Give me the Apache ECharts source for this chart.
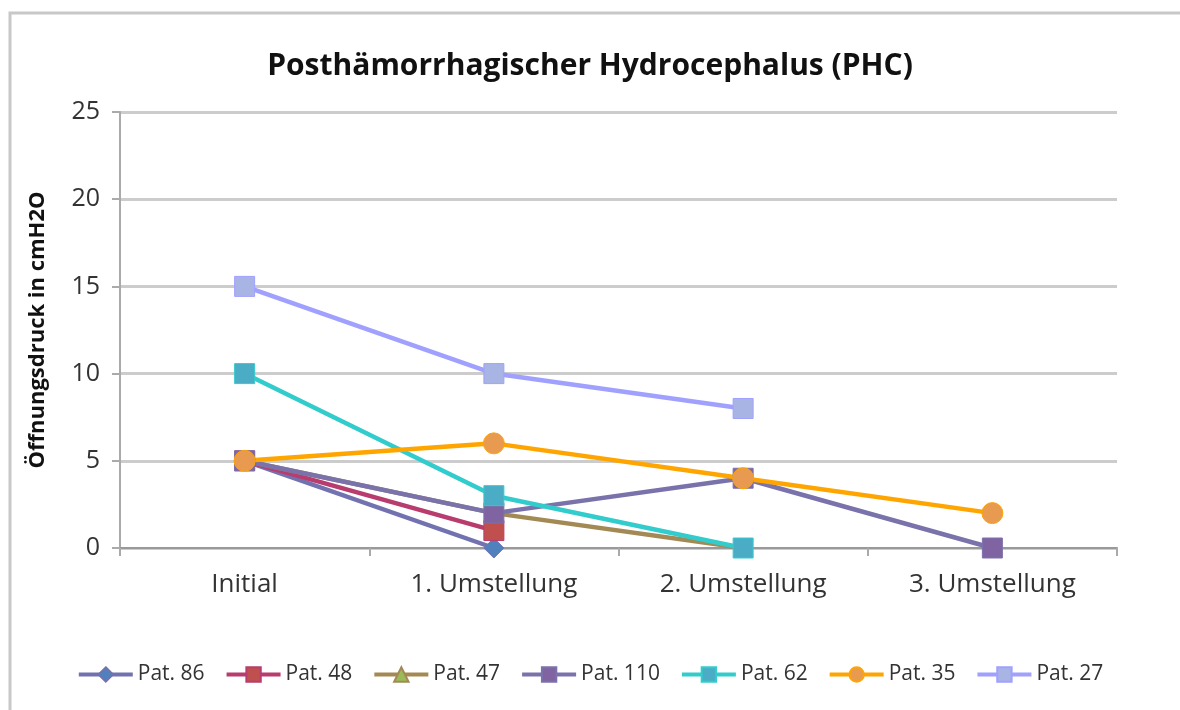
<!DOCTYPE html>
<html>
<head>
<meta charset="utf-8">
<script src="https://cdn.jsdelivr.net/npm/echarts@6/dist/echarts.min.js"></script>
<style>
  html, body { margin: 0; padding: 0; background: #fff; }
  #chart { width: 1180px; height: 710px; }
</style>
</head>
<body>
<div id="chart"></div>
<script>
const categories = ['Initial', '1. Umstellung', '2. Umstellung', '3. Umstellung']
const yTicks = [0, 5, 10, 15, 20, 25]

const pat86 = [5, 0, null, null]
const pat48 = [5, 1, null, null]
const pat47 = [5, 2, 0, null]
const pat110 = [5, 2, 4, 0]
const pat62 = [10, 3, 0, null]
const pat35 = [5, 6, 4, 2]
const pat27 = [15, 10, 8, null]

const FONT = '"Open Sans", "DejaVu Sans", sans-serif'

const mkSeries = (name, data, lineColor, markerColor, symbol, size) => ({
  name,
  type: 'line',
  data,
  symbol,
  symbolSize: size,
  connectNulls: false,
  lineStyle: { color: lineColor, width: 4.5 },
  itemStyle: { color: markerColor, borderColor: lineColor, borderWidth: 1 },
  emphasis: { disabled: true },
})

const chart = echarts.init(document.getElementById('chart'))
chart.setOption({
  animation: false,
  backgroundColor: '#fff',
  graphic: [{
    type: 'rect',
    shape: { x: 10, y: 13, width: 1200, height: 720 },
    style: { fill: 'none', stroke: '#c8c8c8', lineWidth: 3 },
    silent: true,
  }],
  title: {
    text: 'Posthämorrhagischer Hydrocephalus (PHC)',
    left: 'center',
    top: 46,
    textStyle: { fontFamily: FONT, fontSize: 30, fontWeight: 'bold', color: '#111' },
  },
  grid: { left: 120, right: 63, top: 112, bottom: 162 },
  legend: {
    bottom: 20,
    left: 'center',
    itemWidth: 54,
    itemHeight: 18,
    itemGap: 20,
    lineStyle: { width: 4 },
    textStyle: { fontFamily: FONT, fontSize: 21, color: '#333' },
  },
  xAxis: {
    type: 'category',
    data: categories,
    boundaryGap: true,
    axisLine: { lineStyle: { color: '#999', width: 2 } },
    axisTick: { show: true, length: 8, lineStyle: { color: '#aaa', width: 2 } },
    axisLabel: { fontFamily: FONT, fontSize: 26, color: '#333', margin: 24 },
  },
  yAxis: {
    type: 'value',
    min: 0,
    max: 25,
    interval: 5,
    name: 'Öffnungsdruck in cmH2O',
    nameLocation: 'middle',
    nameGap: 71,
    nameTextStyle: { fontFamily: FONT, fontSize: 22, fontWeight: 'bold', color: '#111' },
    axisLine: { show: true, lineStyle: { color: '#aaa', width: 2 } },
    axisTick: { show: true, length: 8, lineStyle: { color: '#aaa', width: 2 } },
    axisLabel: {
      fontFamily: FONT, fontSize: 25, color: '#333', margin: 20,
      formatter: (v) => (yTicks.includes(v) ? String(v) : ''),
    },
    splitLine: { lineStyle: { color: '#cccccc', width: 3 } },
  },
  series: [
    mkSeries('Pat. 86', pat86, '#7272b0', '#4f81bd', 'diamond', 20),
    mkSeries('Pat. 48', pat48, '#b83c6e', '#c0504d', 'rect', 20),
    mkSeries('Pat. 47', pat47, '#a38a55', '#9bbb59', 'triangle', 18),
    mkSeries('Pat. 110', pat110, '#7a72ab', '#8064a2', 'rect', 20),
    mkSeries('Pat. 62', pat62, '#33cccc', '#4bacc6', 'rect', 20),
    mkSeries('Pat. 35', pat35, '#ffa500', '#e89a50', 'circle', 21),
    mkSeries('Pat. 27', pat27, '#a0a0ff', '#a8b4e4', 'rect', 20),
  ],
})
</script>
</body>
</html>
